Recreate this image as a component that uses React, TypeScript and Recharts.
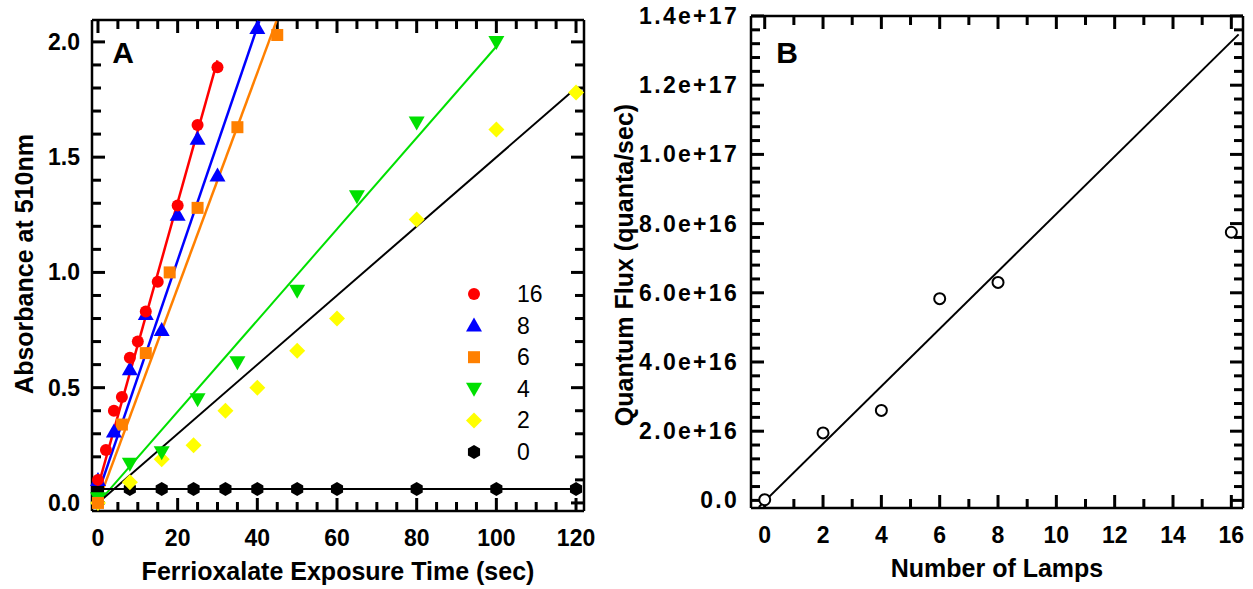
import { Scatter, ScatterChart, XAxis, YAxis } from 'recharts';

const FONT = '"Liberation Sans", Arial, Helvetica, sans-serif';

// Panel A: absorbance vs exposure time, one series per lamp count
const lamps16X = [0, 2, 4, 6, 8, 10, 12, 15, 20, 25, 30];
const lamps16Y = [0.1, 0.23, 0.4, 0.46, 0.63, 0.7, 0.83, 0.96, 1.29, 1.64, 1.89];
const lamps8X = [0, 4, 8, 12, 16, 20, 25, 30, 40];
const lamps8Y = [0.1, 0.31, 0.58, 0.82, 0.75, 1.25, 1.58, 1.42, 2.06];
const lamps6X = [0, 6, 12, 18, 25, 35, 45];
const lamps6Y = [0.0, 0.34, 0.65, 1.0, 1.28, 1.63, 2.03];
const lamps4X = [0, 8, 16, 25, 35, 50, 65, 80, 100];
const lamps4Y = [0.02, 0.17, 0.22, 0.45, 0.61, 0.92, 1.33, 1.65, 2.0];
const lamps2X = [0, 8, 16, 24, 32, 40, 50, 60, 80, 100, 120];
const lamps2Y = [0.0, 0.09, 0.19, 0.25, 0.4, 0.5, 0.66, 0.8, 1.23, 1.62, 1.78];
const lamps0X = [0, 8, 16, 24, 32, 40, 50, 60, 80, 100, 120];
const lamps0Y = [0.06, 0.06, 0.06, 0.06, 0.06, 0.06, 0.06, 0.06, 0.06, 0.06, 0.06];

// fitted lines, end points
const fit16X = [0, 30];
const fit16Y = [0.07, 1.92];
const fit8X = [0, 40.5];
const fit8Y = [0.04, 2.09];
const fit6X = [0, 44.8];
const fit6Y = [0.0, 2.09];
const fit4X = [0, 100];
const fit4Y = [0.0, 1.98];
const fit2X = [0, 120];
const fit2Y = [0.0, 1.8];
const fit0X = [0, 120];
const fit0Y = [0.06, 0.06];

const lampLabels = ['16', '8', '6', '4', '2', '0'];

const timeMajor = [0, 20, 40, 60, 80, 100, 120];
const timeTicks = [0, 5, 10, 15, 20, 25, 30, 35, 40, 45, 50, 55, 60, 65, 70, 75, 80, 85, 90, 95, 100, 105, 110, 115, 120];
const absMajor = [0, 0.5, 1, 1.5, 2];
const absTicks = [0, 0.1, 0.2, 0.3, 0.4, 0.5, 0.6, 0.7, 0.8, 0.9, 1, 1.1, 1.2, 1.3, 1.4, 1.5, 1.6, 1.7, 1.8, 1.9, 2];

// Panel B: quantum flux vs number of lamps
const lampCount = [0, 2, 4, 6, 8, 16];
const quantumFlux = [0.02e16, 1.95e16, 2.6e16, 5.83e16, 6.3e16, 7.75e16];
const fitBX = [-0.2, 16.25];
const fitBY = [-0.19e16, 13.47e16];

const lampMajor = [0, 2, 4, 6, 8, 10, 12, 14, 16];
const lampTicks = [0, 1, 2, 3, 4, 5, 6, 7, 8, 9, 10, 11, 12, 13, 14, 15, 16];
const fluxMajor = [0, 2e16, 4e16, 6e16, 8e16, 10e16, 12e16, 14e16];
const fluxTicks = Array.from({ length: 36 }, (_, i) => i * 0.4e16);

const pts = (xs: number[], ys: number[]) => xs.map((x, i) => ({ x, y: ys[i] }));
const isMajor = (majors: number[], v: number) => majors.some((m) => Math.abs(m - v) <= Math.abs(m) * 1e-6 + 1e-9);

const tickFont = { fontFamily: FONT, fontWeight: 700, fontSize: 23, fill: '#000' } as const;
const titleFont = { fontFamily: FONT, fontWeight: 700, fontSize: 25, fill: '#000' } as const;
const axisLine = { stroke: '#000', strokeWidth: 2.5 };

// tick labels only; the inward marks are drawn by frameTicks below
function xLabel(majors: number[], fmt: (v: number) => string) {
  return (props: any) => {
    const { x, y, payload } = props;
    if (!isMajor(majors, payload.value)) return <g />;
    return (
      <text x={x} y={y + 27} dy="0.35em" textAnchor="middle" style={tickFont}>
        {fmt(payload.value)}
      </text>
    );
  };
}
function yLabel(majors: number[], fmt: (v: number) => string, extra = {}) {
  return (props: any) => {
    const { x, y, payload } = props;
    if (!isMajor(majors, payload.value)) return <g />;
    return (
      <text x={x - 12} y={y} dy="0.35em" textAnchor="end" style={{ ...tickFont, ...extra }}>
        {fmt(payload.value)}
      </text>
    );
  };
}

type Edge = 'bottom' | 'top' | 'left' | 'right';

// one inward tick mark, drawn as a thin bar at a point placed by the chart's scales
function tickShape(edge: Edge, majors: number[]) {
  return (p: any) => {
    const { cx, cy } = p;
    const v = edge === 'bottom' || edge === 'top' ? p.x_value ?? p.payload?.x : p.payload?.y;
    const len = isMajor(majors, v) ? 13 : 9;
    const t = 3;
    if (edge === 'bottom') return <rect x={cx - t / 2} y={cy - len} width={t} height={len} fill="#000" />;
    if (edge === 'top') return <rect x={cx - t / 2} y={cy} width={t} height={len} fill="#000" />;
    if (edge === 'left') return <rect x={cx} y={cy - t / 2} width={len} height={t} fill="#000" />;
    return <rect x={cx - len} y={cy - t / 2} width={len} height={t} fill="#000" />;
  };
}

function frameTicks(
  xTicks: number[],
  xMajor: number[],
  yTicks: number[],
  yMajor: number[],
  xDomain: number[],
  yDomain: number[],
) {
  return [
    <Scatter key="tb" data={xTicks.map((x) => ({ x, y: yDomain[0] }))} shape={tickShape('bottom', xMajor)} isAnimationActive={false} />,
    <Scatter key="tt" data={xTicks.map((x) => ({ x, y: yDomain[1] }))} shape={tickShape('top', xMajor)} isAnimationActive={false} />,
    <Scatter key="tl" data={yTicks.map((y) => ({ x: xDomain[0], y }))} shape={tickShape('left', yMajor)} isAnimationActive={false} />,
    <Scatter key="tr" data={yTicks.map((y) => ({ x: xDomain[1], y }))} shape={tickShape('right', yMajor)} isAnimationActive={false} />,
  ];
}

function Circle({ cx, cy, fill }: any) {
  return <circle cx={cx} cy={cy} r={6} fill={fill} />;
}
function TriUp({ cx, cy, fill }: any) {
  return <polygon points={`${cx},${cy - 8} ${cx - 8},${cy + 6} ${cx + 8},${cy + 6}`} fill={fill} />;
}
function TriDown({ cx, cy, fill }: any) {
  return <polygon points={`${cx - 8},${cy - 6} ${cx + 8},${cy - 6} ${cx},${cy + 8}`} fill={fill} />;
}
function Square({ cx, cy, fill }: any) {
  return <rect x={cx - 6} y={cy - 6} width={12} height={12} fill={fill} />;
}
function Diamond({ cx, cy, fill }: any) {
  return <polygon points={`${cx},${cy - 8} ${cx + 8},${cy} ${cx},${cy + 8} ${cx - 8},${cy}`} fill={fill} />;
}
function Hexagon({ cx, cy, fill }: any) {
  const r = 7;
  const p = [90, 30, -30, -90, -150, 150]
    .map((a) => `${cx + r * Math.cos((a * Math.PI) / 180)},${cy - r * Math.sin((a * Math.PI) / 180)}`)
    .join(' ');
  return <polygon points={p} fill={fill} />;
}
function OpenCircle({ cx, cy }: any) {
  return <circle cx={cx} cy={cy} r={5.5} fill="#fff" stroke="#000" strokeWidth={2} />;
}
const noShape = () => <g />;

const seriesA = [
  { name: '16', xs: lamps16X, ys: lamps16Y, fx: fit16X, fy: fit16Y, color: '#ff0000', shape: Circle, w: 2.5 },
  { name: '8', xs: lamps8X, ys: lamps8Y, fx: fit8X, fy: fit8Y, color: '#0000ff', shape: TriUp, w: 2.5 },
  { name: '6', xs: lamps6X, ys: lamps6Y, fx: fit6X, fy: fit6Y, color: '#ff8000', shape: Square, w: 2.5 },
  { name: '4', xs: lamps4X, ys: lamps4Y, fx: fit4X, fy: fit4Y, color: '#00e000', shape: TriDown, w: 2 },
  { name: '2', xs: lamps2X, ys: lamps2Y, fx: fit2X, fy: fit2Y, color: '#ffff00', shape: Diamond, w: 2, lineColor: '#000' },
  { name: '0', xs: lamps0X, ys: lamps0Y, fx: fit0X, fy: fit0Y, color: '#000000', shape: Hexagon, w: 2 },
];

function PanelA() {
  const xDomain = [-1.5, 122];
  const yDomain = [-0.035, 2.095];
  return (
    <div style={{ position: 'absolute', left: 0, top: 0, width: 600, height: 589 }}>
      <ScatterChart width={600} height={589} margin={{ top: 19, right: 15, bottom: 48, left: 32 }}>
        <XAxis
          type="number"
          dataKey="x"
          domain={xDomain}
          ticks={timeTicks}
          interval={0}
          tickSize={0}
          tickMargin={0}
          tickLine={false}
          height={30}
          axisLine={axisLine}
          tick={xLabel(timeMajor, (v) => String(v))}
        />
        <XAxis xAxisId="top" orientation="top" type="number" domain={xDomain} height={1} axisLine={axisLine} tick={false} tickLine={false} />
        <YAxis
          type="number"
          dataKey="y"
          domain={yDomain}
          ticks={absTicks}
          interval={0}
          tickSize={0}
          tickMargin={0}
          tickLine={false}
          width={60}
          axisLine={axisLine}
          tick={yLabel(absMajor, (v) => v.toFixed(1))}
        />
        <YAxis yAxisId="right" orientation="right" type="number" domain={yDomain} width={1} axisLine={axisLine} tick={false} tickLine={false} />
        {frameTicks(timeTicks, timeMajor, absTicks, absMajor, xDomain, yDomain)}
        {seriesA.map((s) => (
          <Scatter
            key={'fit' + s.name}
            data={pts(s.fx, s.fy)}
            line={{ stroke: s.lineColor ?? s.color, strokeWidth: s.w }}
            shape={noShape}
            isAnimationActive={false}
          />
        ))}
        {seriesA
          .slice()
          .reverse()
          .map((s) => (
            <Scatter
              key={'pts' + s.name}
              data={pts(s.xs, s.ys)}
              fill={s.color}
              shape={s.shape}
              isAnimationActive={false}
            />
          ))}
      </ScatterChart>
      <svg width={600} height={589} style={{ position: 'absolute', left: 0, top: 0, pointerEvents: 'none' }}>
        <text x={123} y={52} dy="0.35em" textAnchor="middle" style={{ ...titleFont, fontSize: 30 }}>
          A
        </text>
        {seriesA.map((s, i) => {
          const cy = 294 + i * 31.6;
          const Shape = s.shape;
          return (
            <g key={s.name}>
              <Shape cx={474} cy={cy} fill={s.color} />
              <text x={517} y={cy} dy="0.35em" style={{ fontFamily: FONT, fontSize: 23, fill: '#000' }}>
                {lampLabels[i]}
              </text>
            </g>
          );
        })}
        <text x={338} y={571} dy="0.35em" textAnchor="middle" style={titleFont}>
          Ferrioxalate Exposure Time (sec)
        </text>
        <text x={24} y={264} dy="0.35em" textAnchor="middle" transform="rotate(-90 24 264)" style={titleFont}>
          Absorbance at 510nm
        </text>
      </svg>
    </div>
  );
}

const fluxFmt = (v: number) => (v === 0 ? '0.0' : v.toExponential(1));

function PanelB() {
  const xDomain = [-0.47, 16.4];
  const yDomain = [-0.22e16, 14e16];
  return (
    <div style={{ position: 'absolute', left: 600, top: 0, width: 653, height: 589 }}>
      <ScatterChart width={653} height={589} margin={{ top: 15, right: 9, bottom: 51, left: 91 }}>
        <XAxis
          type="number"
          dataKey="x"
          domain={xDomain}
          ticks={lampTicks}
          interval={0}
          tickSize={0}
          tickMargin={0}
          tickLine={false}
          height={30}
          axisLine={axisLine}
          tick={xLabel(lampMajor, (v) => String(v))}
        />
        <XAxis xAxisId="top" orientation="top" type="number" domain={xDomain} height={1} axisLine={axisLine} tick={false} tickLine={false} />
        <YAxis
          type="number"
          dataKey="y"
          domain={yDomain}
          ticks={fluxTicks}
          interval={0}
          tickSize={0}
          tickMargin={0}
          tickLine={false}
          width={60}
          axisLine={axisLine}
          tick={yLabel(fluxMajor, fluxFmt, { letterSpacing: 2.3 })}
        />
        <YAxis yAxisId="right" orientation="right" type="number" domain={yDomain} width={1} axisLine={axisLine} tick={false} tickLine={false} />
        {frameTicks(lampTicks, lampMajor, fluxTicks, fluxMajor, xDomain, yDomain)}
        <Scatter
          data={pts(fitBX, fitBY)}
          line={{ stroke: '#000', strokeWidth: 2 }}
          shape={noShape}
          isAnimationActive={false}
        />
        <Scatter data={pts(lampCount, quantumFlux)} shape={OpenCircle} isAnimationActive={false} />
      </ScatterChart>
      <svg width={653} height={589} style={{ position: 'absolute', left: 0, top: 0, pointerEvents: 'none' }}>
        <text x={187} y={52} dy="0.35em" textAnchor="middle" style={{ ...titleFont, fontSize: 30 }}>
          B
        </text>
        <text x={397} y={568} dy="0.35em" textAnchor="middle" style={titleFont}>
          Number of Lamps
        </text>
        <text x={24} y={265} dy="0.35em" textAnchor="middle" transform="rotate(-90 24 265)" style={titleFont}>
          Quantum Flux (quanta/sec)
        </text>
      </svg>
    </div>
  );
}

export default function App() {
  return (
    <div style={{ position: 'absolute', left: 0, top: 0, width: 1253, height: 589, background: '#fff' }}>
      <PanelA />
      <PanelB />
    </div>
  );
}
